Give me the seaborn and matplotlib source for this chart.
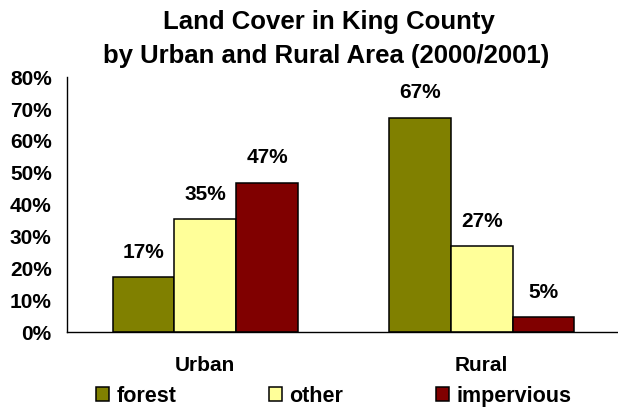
import matplotlib
matplotlib.use("Agg")
import matplotlib.pyplot as plt
import seaborn as sns
import pandas as pd
from matplotlib.patches import Patch

areas = ["Urban", "Rural"]
cover_types = ["forest", "other", "impervious"]
forest = [17.2, 67.3]
other = [35.4, 27.0]
impervious = [46.9, 4.7]
labels_forest = ["17%", "67%"]
labels_other = ["35%", "27%"]
labels_impervious = ["47%", "5%"]
colors = ["#808000", "#FFFF99", "#800000"]
title_lines = ["Land Cover in King County", "by Urban and Rural Area (2000/2001)"]

rows = []
for i, a in enumerate(areas):
    rows.append({"area": a, "type": "forest", "value": forest[i]})
    rows.append({"area": a, "type": "other", "value": other[i]})
    rows.append({"area": a, "type": "impervious", "value": impervious[i]})
df = pd.DataFrame(rows)

sns.set_style("white")
plt.rcParams["font.family"] = ["Liberation Sans", "DejaVu Sans"]
plt.rcParams["font.weight"] = "bold"
for k in ["text.color", "axes.labelcolor", "xtick.color", "ytick.color"]:
    plt.rcParams[k] = "black"

W, H = 618, 407
fig = plt.figure(figsize=(W / 100, H / 100), dpi=100)
ax = fig.add_axes([67 / W, 1 - 332 / H, 553 / W, (332 - 77.3) / H])

sns.barplot(data=df, x="area", y="value", hue="type", order=areas, hue_order=cover_types,
            palette=colors, width=0.67, edgecolor="black", linewidth=1.1, ax=ax,
            legend=False, saturation=1)

for container, labs in zip(ax.containers, [labels_forest, labels_other, labels_impervious]):
    ax.bar_label(container, labels=labs, padding=11, fontsize=15, fontweight="bold",
                 color="black")

ax.set_ylim(0, 80)
ax.set_xlim(-0.5, 1.5)
ax.set_yticks(range(0, 81, 10))
ax.set_yticklabels([f"{v}%" for v in range(0, 81, 10)], fontsize=15, fontweight="bold")
ax.set_xticks([0, 1])
ax.set_xticklabels(areas, fontsize=15, fontweight="bold")
ax.set_xticks([0.5], minor=True)
ax.tick_params(axis="x", which="major", length=0, pad=17)
ax.tick_params(axis="x", which="minor", length=5, width=1, color="black", direction="out")
ax.tick_params(axis="y", length=5, width=1, color="black", direction="out", pad=6)
ax.set_xlabel("")
ax.set_ylabel("")
sns.despine(ax=ax, top=True, right=True)
for s in ["left", "bottom"]:
    ax.spines[s].set_color("black")
    ax.spines[s].set_linewidth(1)

fig.text(0.532, 1 - 29.5 / H, title_lines[0], fontsize=18.5, fontweight="bold",
         ha="center", va="baseline", color="black")
fig.text(0.527, 1 - 63.5 / H, title_lines[1], fontsize=18.5, fontweight="bold",
         ha="center", va="baseline", color="black")

handles = [Patch(facecolor=c, edgecolor="black", linewidth=1.1) for c in colors]
fig.legend(handles, cover_types, loc="lower left", ncol=3, frameon=False,
           bbox_to_anchor=(96 / W, 0.0), prop={"weight": "bold", "size": 15.5},
           handlelength=0.62, handleheight=0.62, handletextpad=0.33, columnspacing=4.3,
           borderpad=0, borderaxespad=0)

fig.savefig("out.png", dpi=100)
